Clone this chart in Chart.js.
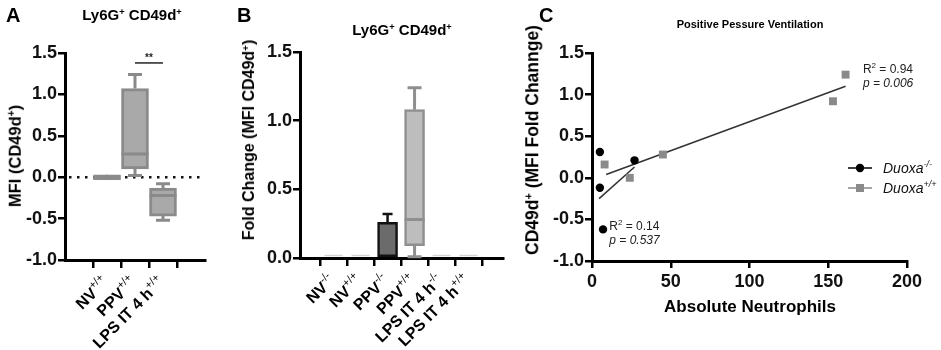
<!DOCTYPE html>
<html>
<head>
<meta charset="utf-8">
<script src="https://cdn.jsdelivr.net/npm/chart.js@4.4.1/dist/chart.umd.min.js"></script>
<style>
  body { margin: 0; background: #fff; width: 941px; height: 350px; position: relative; overflow: hidden;
         font-family: "Liberation Sans", Arial, sans-serif; color: #000; }
  canvas { position: absolute; top: 0; }
  .t { position: absolute; font-weight: bold; white-space: nowrap; line-height: 1; }
  .sup { font-size: 0.62em; position: relative; top: -0.55em; }
  .rot { transform: translate(-50%, -50%) rotate(-90deg); }
</style>
</head>
<body>
<canvas id="chartA" width="220" height="350" style="left:0"></canvas>
<canvas id="chartB" width="300" height="350" style="left:220px"></canvas>
<canvas id="chartC" width="421" height="350" style="left:520px"></canvas>

<div class="t" style="left:6px;top:5px;font-size:20px">A</div>
<div class="t" style="left:237px;top:5px;font-size:20px">B</div>
<div class="t" style="left:539px;top:5px;font-size:20px">C</div>

<div class="t" style="left:132px;top:7px;font-size:15px;transform:translateX(-50%)">Ly6G<span class="sup">+</span> CD49d<span class="sup">+</span></div>
<div class="t" style="left:402px;top:22px;font-size:15px;transform:translateX(-50%)">Ly6G<span class="sup">+</span> CD49d<span class="sup">+</span></div>
<div class="t" style="left:750px;top:19px;font-size:11px;transform:translateX(-50%)">Positive Pessure Ventilation</div>

<div class="t rot" style="left:15px;top:156px;font-size:16.5px">MFI (CD49d<span class="sup">+</span>)</div>
<div class="t rot" style="left:249px;top:140px;font-size:16px">Fold Change (MFI CD49d<span class="sup">+</span>)</div>
<div class="t rot" style="left:533px;top:140px;font-size:17.5px">CD49d<span class="sup">+</span> (MFI Fold Channge)</div>
<div class="t" style="left:750px;top:298px;font-size:17px;transform:translateX(-50%)">Absolute Neutrophils</div>

<script>
// Panel A - box plots, Ly6G+ CD49d+ MFI
const catsA = ['NV', 'PPV', 'LPS IT 4 h'];
const genoA = ['+/+', '+/+', '+/+'];
const minA = [0, 0.02, -0.52];
const q1A = [-0.03, 0.10, -0.47];
const medA = [0, 0.28, -0.22];
const q3A = [0.03, 1.07, -0.13];
const maxA = [0, 1.24, -0.08];
const sigPairA = [1, 2];
const sigLevelA = 1.38;

// Panel B - fold change
const catsB = ['NV', 'NV', 'PPV', 'PPV', 'LPS IT 4 h', 'LPS IT 4 h'];
const genoB = ['-/-', '+/+', '-/-', '+/+', '-/-', '+/+'];
const meanB = [0, 0, 0.26, null, 0, 0];
const errTopB = [0, 0, 0.32, null, 0, 0];
const minB = [null, null, null, 0.01, null, null];
const q1B = [null, null, null, 0.09, null, null];
const medB = [null, null, null, 0.28, null, null];
const q3B = [null, null, null, 1.08, null, null];
const maxB = [null, null, null, 1.24, null, null];

// Panel C - correlation with absolute neutrophils
const koX = [5, 5, 27, 7];
const koY = [0.31, -0.12, 0.21, -0.62];
const wtX = [8, 24, 45, 153, 161];
const wtY = [0.16, 0.0, 0.28, 0.92, 1.24];
const fitKoX = [4.5, 27];
const fitKoY = [-0.25, 0.13];
const fitWtX = [9, 161];
const fitWtY = [0.04, 1.10];

const FONT = '"Liberation Sans", Arial, sans-serif';
Chart.defaults.font.family = FONT;
Chart.defaults.color = '#000';

// y axis shared look
function yAxis(width) {
    return {
        type: 'linear', min: -1, max: 1.5,
        ticks: { stepSize: 0.5, padding: 1, color: '#111', font: { size: 18, weight: 'bold' },
                 callback: v => v.toFixed(1) },
        grid: { drawOnChartArea: false, color: '#000', lineWidth: 2.5, tickLength: 7 },
        border: { color: '#000', width: 3 },
        afterFit: s => { s.width = width; }
    };
}

// category-like x axis on a linear scale
function catAxis(n, min, max, height) {
    return {
        type: 'linear', min: min, max: max,
        afterBuildTicks: s => { s.ticks = Array.from({ length: n }, (_, i) => ({ value: i })); },
        ticks: { display: false },
        grid: { drawOnChartArea: false, color: '#000', lineWidth: 2.5, tickLength: 8 },
        border: { color: '#000', width: 3 },
        afterFit: s => { s.height = height; }
    };
}

// text with a superscript part
function drawRich(ctx, parts, x, y) {
    parts.forEach(p => {
        ctx.font = p.font;
        ctx.fillText(p.t, x, y + (p.dy || 0));
        x += ctx.measureText(p.t).width;
    });
}
function richWidth(ctx, parts) {
    let w = 0;
    parts.forEach(p => { ctx.font = p.font; w += ctx.measureText(p.t).width; });
    return w;
}

// rotated category labels
function drawCatLabels(chart, cats, genos) {
    const ctx = chart.ctx, xs = chart.scales.x, y0 = chart.chartArea.bottom;
    ctx.save();
    ctx.fillStyle = '#000';
    ctx.textBaseline = 'alphabetic';
    cats.forEach((c, i) => {
        const parts = [
            { t: c, font: 'bold 16px ' + FONT },
            { t: genos[i], font: '11px ' + FONT, dy: -7 }
        ];
        const w = richWidth(ctx, parts);
        ctx.save();
        ctx.translate(xs.getPixelForValue(i) - 2, y0 + 19);
        ctx.rotate(-Math.PI / 4);
        drawRich(ctx, parts, -w, 6);
        ctx.restore();
    });
    ctx.restore();
}

// whiskers + median for box plots
function drawBoxes(chart, mins, q1s, meds, q3s, maxs, boxW, color) {
    const ctx = chart.ctx, xs = chart.scales.x, ys = chart.scales.y;
    ctx.save();
    ctx.strokeStyle = color;
    ctx.lineWidth = 3;
    mins.forEach((mn, i) => {
        if (mn === null) return;
        const x = xs.getPixelForValue(i);
        const cap = 7;
        ctx.beginPath();
        ctx.moveTo(x, ys.getPixelForValue(q3s[i]));
        ctx.lineTo(x, ys.getPixelForValue(maxs[i]));
        ctx.moveTo(x - cap, ys.getPixelForValue(maxs[i]));
        ctx.lineTo(x + cap, ys.getPixelForValue(maxs[i]));
        ctx.moveTo(x, ys.getPixelForValue(q1s[i]));
        ctx.lineTo(x, ys.getPixelForValue(mn));
        ctx.moveTo(x - cap, ys.getPixelForValue(mn));
        ctx.lineTo(x + cap, ys.getPixelForValue(mn));
        ctx.moveTo(x - boxW / 2, ys.getPixelForValue(meds[i]));
        ctx.lineTo(x + boxW / 2, ys.getPixelForValue(meds[i]));
        ctx.stroke();
    });
    ctx.restore();
}

const baseOpts = {
    responsive: false,
    animation: false,
    plugins: { legend: { display: false }, tooltip: { enabled: false } }
};

// ---------- Panel A ----------
new Chart(document.getElementById('chartA'), {
    type: 'bar',
    data: {
        datasets: [{
            data: catsA.map((c, i) => ({ x: i, y: [q1A[i], q3A[i]] })),
            backgroundColor: '#a9a9a9',
            borderColor: '#8a8a8a',
            borderWidth: 3,
            borderSkipped: false,
            barThickness: 27,
            grouped: false
        }]
    },
    options: {
        ...baseOpts,
        layout: { padding: { top: 53, right: 15, left: 0, bottom: 0 } },
        scales: { x: catAxis(3, -0.667, 2.667, 90), y: yAxis(65) }
    },
    plugins: [{
        id: 'boxA',
        beforeDatasetsDraw(chart) {
            const ctx = chart.ctx, ys = chart.scales.y, a = chart.chartArea;
            ctx.save();
            ctx.strokeStyle = '#111';
            ctx.lineWidth = 2.5;
            ctx.setLineDash([2.5, 5.5]);
            ctx.beginPath();
            ctx.moveTo(a.left + 4, ys.getPixelForValue(0));
            ctx.lineTo(a.right, ys.getPixelForValue(0));
            ctx.stroke();
            ctx.restore();
        },
        afterDatasetsDraw(chart) {
            drawBoxes(chart, minA, q1A, medA, q3A, maxA, 27, '#8a8a8a');
            const ctx = chart.ctx, xs = chart.scales.x, ys = chart.scales.y;
            const yS = ys.getPixelForValue(sigLevelA);
            ctx.save();
            ctx.strokeStyle = '#222';
            ctx.lineWidth = 1.5;
            ctx.beginPath();
            ctx.moveTo(xs.getPixelForValue(sigPairA[0]), yS);
            ctx.lineTo(xs.getPixelForValue(sigPairA[1]), yS);
            ctx.stroke();
            ctx.fillStyle = '#222';
            ctx.font = 'bold 10px ' + FONT;
            ctx.textAlign = 'center';
            ctx.fillText('**', (xs.getPixelForValue(sigPairA[0]) + xs.getPixelForValue(sigPairA[1])) / 2, yS - 2);
            ctx.restore();
        },
        afterDraw(chart) { drawCatLabels(chart, catsA, genoA); }
    }]
});

// ---------- Panel B ----------
new Chart(document.getElementById('chartB'), {
    type: 'bar',
    data: {
        datasets: [{
            data: meanB.map((v, i) => (v === null ? null : { x: i, y: v })).filter(d => d),
            backgroundColor: '#6b6b6b',
            borderColor: '#111',
            borderWidth: 2.5,
            borderSkipped: false,
            barThickness: 20,
            grouped: false
        }, {
            data: q1B.map((v, i) => (v === null ? null : { x: i, y: [v, q3B[i]] })).filter(d => d),
            backgroundColor: '#bdbdbd',
            borderColor: '#8f8f8f',
            borderWidth: 2.5,
            borderSkipped: false,
            barThickness: 20,
            grouped: false
        }]
    },
    options: {
        ...baseOpts,
        layout: { padding: { top: 52, right: 17, left: 0, bottom: 0 } },
        scales: {
            x: catAxis(6, -0.617, 5.65, 92),
            y: { ...yAxis(80), min: 0 }
        }
    },
    plugins: [{
        id: 'boxB',
        afterDatasetsDraw(chart) {
            const ctx = chart.ctx, xs = chart.scales.x, ys = chart.scales.y;
            ctx.save();
            // error bar on the mean bar
            ctx.strokeStyle = '#111';
            ctx.lineWidth = 2.5;
            meanB.forEach((m, i) => {
                if (m === null) return;
                const x = xs.getPixelForValue(i);
                if (m === 0) {
                    ctx.save();
                    ctx.strokeStyle = '#d4d4d4';
                    ctx.lineWidth = 1.5;
                    ctx.beginPath();
                    ctx.moveTo(x - 9, ys.getPixelForValue(0) - 2.5);
                    ctx.lineTo(x + 9, ys.getPixelForValue(0) - 2.5);
                    ctx.stroke();
                    ctx.restore();
                    return;
                }
                ctx.beginPath();
                ctx.moveTo(x, ys.getPixelForValue(m));
                ctx.lineTo(x, ys.getPixelForValue(errTopB[i]));
                ctx.moveTo(x - 5, ys.getPixelForValue(errTopB[i]));
                ctx.lineTo(x + 5, ys.getPixelForValue(errTopB[i]));
                ctx.stroke();
            });
            ctx.restore();
            drawBoxes(chart, minB, q1B, medB, q3B, maxB, 20, '#8f8f8f');
        },
        afterDraw(chart) { drawCatLabels(chart, catsB, genoB); }
    }]
});

// ---------- Panel C ----------
new Chart(document.getElementById('chartC'), {
    type: 'scatter',
    data: {
        datasets: [{
            label: 'Duoxa-/-',
            data: koX.map((x, i) => ({ x: x, y: koY[i] })),
            pointStyle: 'circle',
            pointRadius: 4.2,
            backgroundColor: '#000',
            borderColor: '#000',
            borderWidth: 0
        }, {
            label: 'Duoxa+/+',
            data: wtX.map((x, i) => ({ x: x, y: wtY[i] })),
            pointStyle: 'rect',
            pointRadius: 5.6,
            backgroundColor: '#8a8a8a',
            borderColor: '#8a8a8a',
            borderWidth: 0
        }, {
            data: fitKoX.map((x, i) => ({ x: x, y: fitKoY[i] })),
            showLine: true, pointRadius: 0, borderColor: '#333', borderWidth: 1.5
        }, {
            data: fitWtX.map((x, i) => ({ x: x, y: fitWtY[i] })),
            showLine: true, pointRadius: 0, borderColor: '#333', borderWidth: 1.5
        }]
    },
    options: {
        ...baseOpts,
        layout: { padding: { top: 53, right: 34, left: 0, bottom: 0 } },
        scales: {
            x: {
                type: 'linear', min: 0, max: 200,
                ticks: { stepSize: 50, padding: 3, color: '#111', font: { size: 18, weight: 'bold' } },
                grid: { drawOnChartArea: false, color: '#000', lineWidth: 2.5, tickLength: 7 },
                border: { color: '#000', width: 3 },
                afterFit: s => { s.height = 89; }
            },
            y: yAxis(72)
        }
    },
    plugins: [{
        id: 'legendC',
        afterDraw(chart) {
            const ctx = chart.ctx, xs = chart.scales.x, ys = chart.scales.y;
            ctx.save();
            // legend
            const rows = [
                { y: 168, color: '#000', shape: 'circle', geno: '-/-' },
                { y: 188, color: '#8a8a8a', shape: 'rect', geno: '+/+' }
            ];
            rows.forEach(r => {
                ctx.strokeStyle = r.color;
                ctx.fillStyle = r.color;
                ctx.lineWidth = 1.5;
                ctx.beginPath();
                ctx.moveTo(328, r.y);
                ctx.lineTo(352, r.y);
                ctx.stroke();
                if (r.shape === 'circle') {
                    ctx.beginPath();
                    ctx.arc(340, r.y, 4.2, 0, Math.PI * 2);
                    ctx.fill();
                } else {
                    ctx.fillRect(336, r.y - 4, 8, 8);
                }
                ctx.fillStyle = '#111';
                drawRich(ctx, [
                    { t: 'Duoxa', font: 'italic 14px ' + FONT },
                    { t: r.geno, font: 'italic 9px ' + FONT, dy: -6 }
                ], 363, r.y + 5);
            });
            // stats text
            ctx.fillStyle = '#222';
            const notes = [
                { x: 172, y: 1.26, r2: '0.94', p: '0.006' },
                { x: 11, y: -0.63, r2: '0.14', p: '0.537' }
            ];
            notes.forEach(n => {
                const px = xs.getPixelForValue(n.x), py = ys.getPixelForValue(n.y);
                drawRich(ctx, [
                    { t: 'R', font: '12px ' + FONT },
                    { t: '2', font: '8px ' + FONT, dy: -5 },
                    { t: ' = ' + n.r2, font: '12px ' + FONT }
                ], px, py);
                drawRich(ctx, [{ t: 'p = ' + n.p, font: 'italic 12px ' + FONT }], px, py + 14);
            });
            ctx.restore();
        }
    }]
});
</script>
</body>
</html>
